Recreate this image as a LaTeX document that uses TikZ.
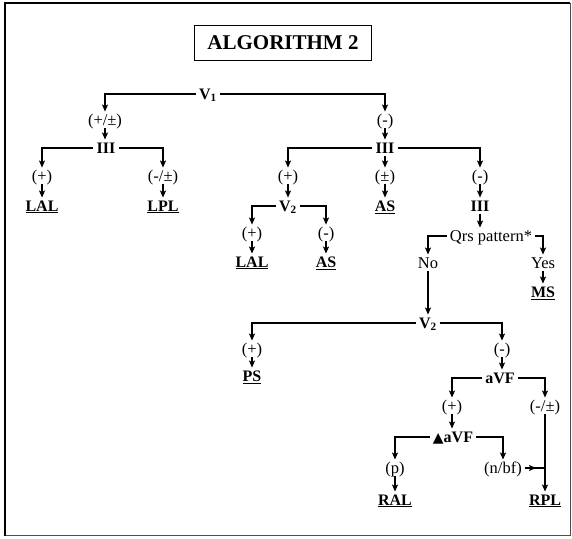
\documentclass[tikz,border=0pt]{standalone}
\usepackage{fontspec}
\setmainfont{Liberation Serif}
\newfontfamily\dejavu{DejaVu Sans}
\usetikzlibrary{arrows.meta,calc}
\begin{document}
\begin{tikzpicture}[x=1pt,y=-1pt,
  lab/.style={font=\fontsize{16.5}{18}\selectfont, text height=11.5pt, text depth=1pt, inner xsep=3pt, inner ysep=2pt},
  blab/.style={lab, font=\fontsize{16}{18}\selectfont\bfseries},
  arr/.style={-{Stealth[length=7pt,width=6pt,inset=1.5pt]}, line width=1.2pt},
  ln/.style={line width=1.2pt}]
\useasboundingbox (0,0) rectangle (572,538);
% frame
\draw[line width=1pt, black!70] (5,3) rectangle (570,535);
\draw[line width=2.5pt] (5,2) -- (5,536);
\draw[line width=2pt] (4,3) -- (570,3);
% title
\node[draw, line width=1.3pt, minimum width=177pt, minimum height=35pt, font=\fontsize{21}{24}\selectfont\bfseries] (title) at (283,43) {ALGORITHM 2};
% nodes
\node[blab] (V1) at (208,94) {V\textsubscript{1}};
\node[lab] (pp) at (105,120) {(+/±)};
\node[blab] (IIIa) at (106,148) {III};
\node[lab] (pA) at (42,176) {(+)};
\node[lab] (mpA) at (163,176) {(-/±)};
\node[blab] (LAL1) at (42,206) {\underline{LAL}};
\node[blab] (LPL) at (163,206) {\underline{LPL}};
\node[lab] (mB) at (385,120) {(-)};
\node[blab] (IIIb) at (385,148) {III};
\node[lab] (pB) at (288,176) {(+)};
\node[lab] (pmB) at (385,176) {(±)};
\node[lab] (mC) at (480,176) {(-)};
\node[blab] (V2a) at (288,206) {V\textsubscript{2}};
\node[blab] (AS1) at (385,206) {\underline{AS}};
\node[blab] (IIIc) at (480,206) {III};
\node[lab] (pD) at (252,233) {(+)};
\node[lab] (mD) at (326,233) {(-)};
\node[blab] (LAL2) at (252,262) {\underline{LAL}};
\node[blab] (AS2) at (326,262) {\underline{AS}};
\node[lab] (qrs) at (491,236) {Qrs pattern*};
\node[lab] (No) at (428,263) {No};
\node[lab] (Yes) at (543,263) {Yes};
\node[blab] (MS) at (543,292) {\underline{MS}};
\node[blab] (V2b) at (428,323) {V\textsubscript{2}};
\node[lab] (pE) at (252,349) {(+)};
\node[lab] (mE) at (502,349) {(-)};
\node[blab] (PS) at (252,376) {\underline{PS}};
\node[blab] (aVF) at (500,378) {aVF};
\node[lab] (pF) at (452,406) {(+)};
\node[lab] (mpF) at (545,406) {(-/±)};
\node[blab] (daVF) at (453,437) {{\dejavu\fontsize{14}{15}\selectfont ▲}aVF};
\node[lab] (p) at (395,468) {(p)};
\node[lab] (nbf) at (503,468) {(n/bf)};
\node[blab] (RAL) at (395,500) {\underline{RAL}};
\node[blab] (RPL) at (545,500) {\underline{RPL}};
% connectors
\draw[arr] (V1.west) -| (pp.north);
\draw[arr] (V1.east) -| (mB.north);
\draw[arr] (pp.south) -- (pp.south |- IIIa.north);
\draw[arr] (IIIa.west) -| (pA.north);
\draw[arr] (IIIa.east) -| (mpA.north);
\draw[arr] (pA.south) -- (pA.south |- LAL1.north);
\draw[arr] (mpA.south) -- (mpA.south |- LPL.north);
\draw[arr] (mB.south) -- (mB.south |- IIIb.north);
\draw[arr] (IIIb.west) -| (pB.north);
\draw[arr] (IIIb.south) -- (IIIb.south |- pmB.north);
\draw[arr] (IIIb.east) -| (mC.north);
\draw[arr] (pB.south) -- (pB.south |- V2a.north);
\draw[arr] (pmB.south) -- (pmB.south |- AS1.north);
\draw[arr] (mC.south) -- (mC.south |- IIIc.north);
\draw[arr] (V2a.west) -| (pD.north);
\draw[arr] (V2a.east) -| (mD.north);
\draw[arr] (pD.south) -- (pD.south |- LAL2.north);
\draw[arr] (mD.south) -- (mD.south |- AS2.north);
\draw[arr] (IIIc.south) -- (IIIc.south |- qrs.north);
\draw[arr] (qrs.west) -| (No.north);
\draw[arr] (qrs.east) -| (Yes.north);
\draw[arr] (Yes.south) -- (Yes.south |- MS.north);
\draw[arr] (No.south) -- (No.south |- V2b.north);
\draw[arr] (V2b.west) -| (pE.north);
\draw[arr] (V2b.east) -| (mE.north);
\draw[arr] (pE.south) -- (pE.south |- PS.north);
\draw[arr] (mE.south) -- (mE.south |- aVF.north);
\draw[arr] (aVF.west) -| (pF.north);
\draw[arr] (aVF.east) -| (mpF.north);
\draw[arr] (pF.south) -- (pF.south |- daVF.north);
\draw[arr] (daVF.west) -| (p.north);
\draw[arr] (daVF.east) -| (nbf.north);
\draw[arr] (p.south) -- (p.south |- RAL.north);
\draw[arr] (mpF.south) -- (mpF.south |- RPL.north);
\coordinate (j) at (mpF.south |- nbf.east);
\draw[ln] (nbf.east) -- (j);
\draw[arr] (nbf.east) -- ($(nbf.east)!0.55!(j)$);
\end{tikzpicture}
\end{document}
